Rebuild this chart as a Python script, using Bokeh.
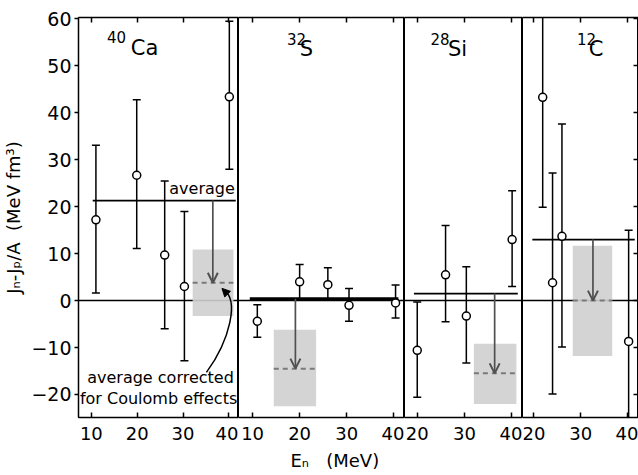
from bokeh.plotting import figure
from bokeh.models import (Range1d, FixedTicker, LinearAxis, Span, Label, Arrow,
                          OpenHead, NormalHead, Title)
from bokeh.layouts import row
from bokeh.embed import file_html
from bokeh.resources import INLINE

FONT = "DejaVu Sans"

# ---------------- data ----------------
y_ticks = [-20, -10, 0, 10, 20, 30, 40, 50, 60]
x_ticks = [10, 20, 30, 40]

ca_e = [11.0, 19.9, 26.0, 30.3, 40.1]
ca_v = [17.2, 26.7, 9.7, 3.0, 43.4]
ca_hi = [33.1, 42.8, 25.5, 19.0, 59.5]
ca_lo = [1.6, 11.1, -6.0, -12.8, 28.0]
ca_avg = 21.3
ca_corr = 3.8

s_e = [11.0, 20.0, 26.0, 30.5, 40.4]
s_v = [-4.4, 4.0, 3.4, -1.0, -0.5]
s_hi = [-0.9, 7.7, 7.0, 2.6, 3.3]
s_lo = [-7.8, 0.3, 0.3, -4.4, -3.7]
s_avg = 0.4
s_corr = -14.5

si_e = [20.0, 26.0, 30.4, 40.1]
si_v = [-10.6, 5.5, -3.3, 13.0]
si_hi = [-0.3, 16.0, 7.2, 23.4]
si_lo = [-20.6, -4.5, -13.3, 3.0]
si_avg = 1.5
si_corr = -15.5

c_e = [21.9, 24.0, 26.0, 40.2]
c_v = [43.3, 3.8, 13.7, -8.7]
c_hi = [64.0, 27.2, 37.6, 15.0]
c_lo = [19.9, -19.9, -9.9, -30.0]
c_avg = 13.0
c_corr = 0.0

panel_names = [("40", "Ca"), ("32", "S"), ("28", "Si"), ("12", "C")]

# ---------------- layout / styling ----------------
y_range = Range1d(-24.9, 60.3)
GRAY_BOX = "#cfcfcf"
DASH_COL = "#7a7a7a"
ARROW_COL = "#505050"
INK = "black"


def make_panel(xr, width, e, v, hi, lo, avg, avg_x, corr, box, arrow_x,
               name, name_pos, left=False, right=False):
    p = figure(width=width, height=475, x_range=Range1d(*xr), y_range=y_range,
               output_backend="svg", toolbar_location=None,
               min_border_left=74 if left else 0, min_border_right=0,
               min_border_top=17, min_border_bottom=57)
    p.xgrid.visible = False
    p.ygrid.visible = False
    p.outline_line_color = INK
    p.outline_line_width = 1
    p.background_fill_color = "white"
    p.border_fill_color = "white"

    xa = p.xaxis[0]
    xa.ticker = FixedTicker(ticks=x_ticks)
    xa.major_tick_in = 5
    xa.major_tick_out = 0
    xa.minor_tick_line_color = None
    xa.axis_line_width = 1.5
    xa.major_tick_line_width = 1.5
    xa.major_label_text_font = FONT
    xa.major_label_text_font_size = "18px"
    xa.major_label_text_color = INK
    xa.major_label_standoff = 9

    top = LinearAxis(ticker=FixedTicker(ticks=x_ticks), major_tick_in=5,
                     major_tick_out=0, major_label_text_font_size="1px",
                     major_label_text_color=None,
                     major_label_standoff=0, minor_tick_line_color=None,
                     axis_line_width=1.5, major_tick_line_width=1.5)
    p.add_layout(top, "above")

    ya = p.yaxis[0]
    if left:
        ya.ticker = FixedTicker(ticks=y_ticks)
        ya.major_tick_in = 0
        ya.major_tick_out = 4
        ya.minor_tick_line_color = None
        ya.axis_line_width = 1.5
        ya.major_tick_line_width = 1.5
        ya.major_label_text_font = FONT
        ya.major_label_text_font_size = "19px"
        ya.major_label_text_color = INK
        ya.major_label_standoff = 3
        ya.axis_label = "J\u2099-J\u209a/A\u00a0\u00a0(MeV\u00a0fm\u00b3)"
        ya.axis_label_text_font = FONT
        ya.axis_label_text_font_size = "18px"
        ya.axis_label_text_color = INK
        ya.axis_label_text_font_style = "normal"
        ya.axis_label_standoff = 4
    else:
        ya.visible = False
    if right:
        ra = LinearAxis(ticker=FixedTicker(ticks=y_ticks), major_tick_in=5,
                        major_tick_out=0, major_label_text_font_size="1px",
                        major_label_text_color=None,
                        major_label_standoff=0, minor_tick_line_color=None,
                        axis_line_color=None, major_tick_line_width=1.5)
        p.add_layout(ra, "right")

    # zero line (under the grey box)
    p.add_layout(Span(location=0, dimension="width", line_color=INK,
                      line_width=1.5, level="underlay"))

    # grey band of the corrected average
    p.quad(left=[box[0]], right=[box[1]], bottom=[box[2]], top=[box[3]],
           fill_color=GRAY_BOX, line_color=None, fill_alpha=0.9)
    p.segment(x0=[box[0]], x1=[box[1]], y0=[corr], y1=[corr],
              line_color=DASH_COL, line_width=2, line_dash="5 4")

    # average line
    p.segment(x0=[avg_x[0]], x1=[avg_x[1]], y0=[avg], y1=[avg],
              line_color=INK, line_width=3 if abs(avg) < 1 else 1.7)

    # arrow from average to corrected average
    p.add_layout(Arrow(x_start=arrow_x, y_start=avg, x_end=arrow_x, y_end=corr,
                       line_color=ARROW_COL, line_width=1.7,
                       end=OpenHead(size=10, line_color=ARROW_COL, line_width=2)))

    # error bars
    p.segment(x0=e, x1=e, y0=lo, y1=hi, line_color=INK, line_width=1.5)
    p.scatter(x=e, y=hi, marker="dash", size=8, line_color=INK, line_width=1.5)
    p.scatter(x=e, y=lo, marker="dash", size=8, line_color=INK, line_width=1.5)
    p.scatter(x=e, y=v, size=8, fill_color="white", line_color=INK,
              line_width=1.5)

    # nucleus label
    p.add_layout(Label(x=name_pos[0], y=name_pos[1], text=name[0],
                       text_font=FONT, text_font_size="15px", text_color=INK,
                       text_baseline="middle", text_align="left"))
    p.add_layout(Label(x=name_pos[2], y=name_pos[3], text=name[1],
                       text_font=FONT, text_font_size="21px", text_color=INK,
                       text_baseline="middle", text_align="left"))
    return p


p1 = make_panel((7.2, 42.1), 238, ca_e, ca_v, ca_hi, ca_lo, ca_avg, (10.3, 41.5),
                ca_corr, (32.1, 41.0, -3.3, 10.9), 36.5,
                panel_names[0], (13.4, 56.2, 18.6, 53.8), left=True)
p2 = make_panel((7.0, 42.3), 166, s_e, s_v, s_hi, s_lo, s_avg, (9.4, 41.0),
                s_corr, (14.5, 23.5, -22.5, -6.2), 19.1,
                panel_names[1], (17.3, 55.8, 20.0, 53.6))
p3 = make_panel((17.3, 42.3), 118, si_e, si_v, si_hi, si_lo, si_avg, (19.3, 41.3),
                si_corr, (32.0, 41.0, -22.0, -9.2), 36.4,
                panel_names[2], (22.8, 55.8, 26.5, 53.6))
p4 = make_panel((17.6, 42.3), 116, c_e, c_v, c_hi, c_lo, c_avg, (19.7, 41.5),
                c_corr, (28.3, 36.7, -11.8, 11.7), 32.6,
                panel_names[3], (29.2, 55.8, 31.7, 53.6), right=True)

# annotations in the 40Ca panel
p1.add_layout(Label(x=27.0, y=23.8, text="average", text_font=FONT,
                    text_font_size="16px", text_color=INK, text_baseline="middle"))
p1.add_layout(Label(x=9.1, y=-16.4, text="average corrected", text_font=FONT,
                    text_font_size="16px", text_color=INK, text_baseline="middle"))
p1.add_layout(Label(x=7.5, y=-20.9, text="for Coulomb effects", text_font=FONT,
                    text_font_size="16px", text_color=INK, text_baseline="middle"))
p1.bezier(x0=[35.1], y0=[-15.3], x1=[38.7], y1=[2.4], cx0=[40.2], cy0=[-8.5],
          cx1=[42.4], cy1=[0.3], line_color=INK, line_width=1.5)
p1.add_layout(Arrow(x_start=39.9, y_start=1.2, x_end=38.5, y_end=2.6,
                    line_alpha=0, end=NormalHead(size=8, fill_color=INK,
                                                 line_color=INK)))

# x axis title under the 32S panel
p2.add_layout(Title(text="E\u2099\u00a0\u00a0\u00a0(MeV)", align="left", offset=52,
                    text_font=FONT, text_font_size="18px", text_color=INK,
                    text_font_style="normal"), "below")

layout = row(p1, p2, p3, p4, spacing=0)

open("out.html", "w").write(file_html(layout, INLINE))
